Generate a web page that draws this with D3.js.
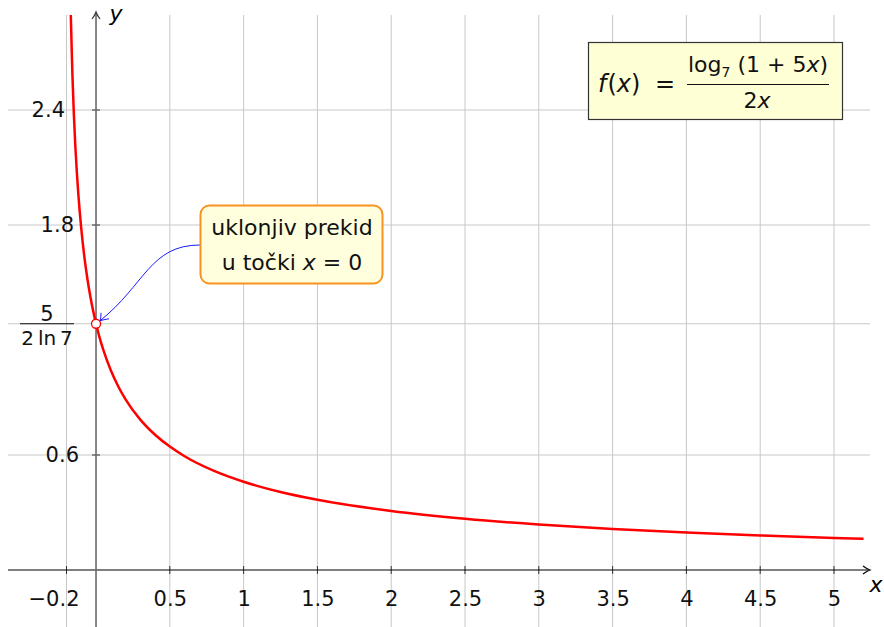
<!DOCTYPE html>
<html><head><meta charset="utf-8">
<script src="https://cdn.jsdelivr.net/npm/d3@7"></script>
<style>body{margin:0;background:#fff}svg{display:block}text{font-family:"DejaVu Sans",sans-serif}</style>
</head><body><svg id="c" width="884" height="627"></svg>
<script>
// curve samples
const xVals = [-0.19,-0.185,-0.18,-0.175,-0.17,-0.16,-0.15,-0.14,-0.13,-0.12,-0.1,-0.08,-0.06,-0.04,-0.02,0,0.02,0.05,0.1,0.15,0.2,0.3,0.4,0.5,0.6,0.8,1,1.25,1.5,2,2.5,3,3.5,4,4.5,5,5.2];
const yVals = [4.0513,3.5977,3.2869,3.0532,2.8674,2.5847,2.3747,2.2097,2.0750,1.9620,1.7810,1.6407,1.5275,1.4334,1.3536,1.28474,1.2245,1.1467,1.0418,0.9586,0.8905,0.7848,0.7057,0.6438,0.5937,0.5169,0.4604,0.4072,0.3666,0.3081,0.2675,0.2375,0.2142,0.1956,0.1803,0.1674,0.1629];
const xTicks = [-0.2,0.5,1,1.5,2,2.5,3,3.5,4,4.5,5];
const xTickLabels = ["\u22120.2","0.5","1","1.5","2","2.5","3","3.5","4","4.5","5"];
const yTicks = [0.6,1.8,2.4];
const yTickLabels = ["0.6","1.8","2.4"];
const holeX = 0, holeY = 1.28474;

const svg = d3.select("#c");
const x = d3.scaleLinear().domain([-0.2,5]).range([66.5,834]);
const y = d3.scaleLinear().domain([0.6,2.4]).range([455,110]);
const L=8,R=870,T=15,B=627;
const FS = 21;

svg.append("defs").append("clipPath").attr("id","clip").append("rect").attr("x",0).attr("y",T).attr("width",884).attr("height",B-T);

const grid = svg.append("g").attr("stroke","#c8c8c8").attr("stroke-width",1);
grid.selectAll(".gv").data(xTicks).join("line").attr("x1",d=>x(d)).attr("x2",d=>x(d)).attr("y1",T).attr("y2",B);
grid.selectAll(".gh").data(yTicks.concat([holeY])).join("line").attr("x1",L).attr("x2",R).attr("y1",d=>y(d)).attr("y2",d=>y(d));

// x axis
const xa = svg.append("g").attr("transform",`translate(0,${y(0)})`);
xa.call(d3.axisBottom(x).tickValues(xTicks).tickFormat((d,i)=>xTickLabels[i]).tickSize(0).tickPadding(21));
xa.select(".domain").remove();
xa.selectAll("text").attr("font-size",FS).attr("fill","#111").attr("font-family","DejaVu Sans")
  .attr("dx",(d,i)=>i===0?-13:0);
xa.selectAll(".tk").data(xTicks).join("line").attr("x1",d=>x(d)).attr("x2",d=>x(d)).attr("y1",-4).attr("y2",4).attr("stroke","#333");
xa.append("line").attr("x1",L).attr("x2",R-2).attr("y1",0).attr("y2",0).attr("stroke","#000").attr("stroke-width",1.2);
xa.append("path").attr("d",`M${R-7},-4 Q${R-3},-1 ${R},0 Q${R-3},1 ${R-7},4`).attr("fill","none").attr("stroke","#000").attr("stroke-width",1.2);
svg.append("text").attr("x",876).attr("y",592).attr("font-size",22).attr("font-style","italic").attr("text-anchor","middle").text("x");

// y axis
const yOff = {"0.6":-17,"1.8":-22,"2.4":-31};
const ya = svg.append("g").attr("transform",`translate(${x(0)},0)`);
ya.call(d3.axisLeft(y).tickValues(yTicks).tickFormat((d,i)=>yTickLabels[i]).tickSize(0).tickPadding(0));
ya.select(".domain").remove();
ya.selectAll("text").attr("font-size",FS).attr("fill","#111").attr("font-family","DejaVu Sans")
  .attr("x",(d,i)=>yOff[yTickLabels[i]]);
ya.selectAll(".tk").data(yTicks).join("line").attr("x1",-4).attr("x2",4).attr("y1",d=>y(d)).attr("y2",d=>y(d)).attr("stroke","#333");
ya.append("line").attr("x1",0).attr("x2",0).attr("y1",B).attr("y2",14).attr("stroke","#6a6a6a").attr("stroke-width",1.6);
ya.append("path").attr("d",`M-4,19 Q-1,15 0,12 Q1,15 4,19`).attr("fill","none").attr("stroke","#333").attr("stroke-width",1.2);
svg.append("text").attr("x",116).attr("y",21).attr("font-size",22).attr("font-style","italic").attr("text-anchor","middle").text("y");

// fraction label 5/(2 ln 7)
const fy = y(holeY);
svg.append("text").attr("x",47).attr("y",fy-3).attr("font-size",FS).attr("text-anchor","middle").attr("fill","#111").text("5");
svg.append("line").attr("x1",20).attr("x2",74).attr("y1",fy).attr("y2",fy).attr("stroke","#111").attr("stroke-width",1.2);
svg.append("text").attr("x",47).attr("y",fy+21).attr("font-size",20).attr("text-anchor","middle").attr("fill","#111").text("2\u2009ln\u20097");

// curve
const line = d3.line().x((d,i)=>x(xVals[i])).y(d=>y(d)).curve(d3.curveMonotoneX);
svg.append("path").attr("clip-path","url(#clip)").datum(yVals).attr("d",line).attr("fill","none").attr("stroke","#ff0000").attr("stroke-width",2.5);

// annotation arrow
const hx = x(holeX), hy = y(holeY);
svg.append("path").attr("d",`M200,245 C150,245 145,285 ${hx+4},${hy-3}`).attr("fill","none").attr("stroke","#0000ff").attr("stroke-width",0.9);
svg.append("path").attr("d",`M${hx+5},${hy-11} Q${hx+5},${hy-5} ${hx+4},${hy-3} Q${hx+7},${hy-4} ${hx+13},${hy-5}`).attr("fill","none").attr("stroke","#0000ff").attr("stroke-width",0.9);

// hole
svg.append("circle").attr("cx",hx).attr("cy",hy).attr("r",4.5).attr("fill","#fff").attr("stroke","#ff0000").attr("stroke-width",1.3);

// annotation box
svg.append("rect").attr("x",200.5).attr("y",205.5).attr("width",182).attr("height",78).attr("rx",9).attr("fill","#ffffdd").attr("stroke","#f7931e").attr("stroke-width",2);
svg.append("text").attr("x",292).attr("y",235).attr("font-size",22).attr("text-anchor","middle").attr("fill","#111").text("uklonjiv prekid");
const t2 = svg.append("text").attr("x",292).attr("y",270).attr("font-size",22).attr("text-anchor","middle").attr("fill","#111");
t2.append("tspan").text("u točki ");
t2.append("tspan").attr("font-style","italic").text("x");
t2.append("tspan").text(" = 0");

// formula box
svg.append("rect").attr("x",588.5).attr("y",42.5).attr("width",254).attr("height",77).attr("fill","#ffffd5").attr("stroke","#333").attr("stroke-width",1.2);
const f1 = svg.append("text").attr("x",598).attr("y",92).attr("font-size",24).attr("fill","#111");
f1.append("tspan").attr("font-style","italic").text("f");
f1.append("tspan").attr("dx",1).text("(");
f1.append("tspan").attr("font-style","italic").text("x");
f1.append("tspan").text(")");
svg.append("text").attr("x",665).attr("y",92).attr("font-size",24).attr("text-anchor","middle").attr("fill","#111").text("=");
svg.append("line").attr("x1",687).attr("x2",829).attr("y1",84.5).attr("y2",84.5).attr("stroke","#111").attr("stroke-width",1.2);
const num = svg.append("text").attr("x",758).attr("y",72).attr("font-size",22).attr("text-anchor","middle").attr("fill","#111");
num.append("tspan").text("log");
num.append("tspan").attr("font-size",14).attr("dy",5).text("7");
num.append("tspan").attr("dy",-5).text(" (1 + 5");
num.append("tspan").attr("font-style","italic").text("x");
num.append("tspan").text(")");
const den = svg.append("text").attr("x",757).attr("y",108).attr("font-size",22).attr("text-anchor","middle").attr("fill","#111");
den.append("tspan").text("2");
den.append("tspan").attr("font-style","italic").text("x");
</script></body></html>
